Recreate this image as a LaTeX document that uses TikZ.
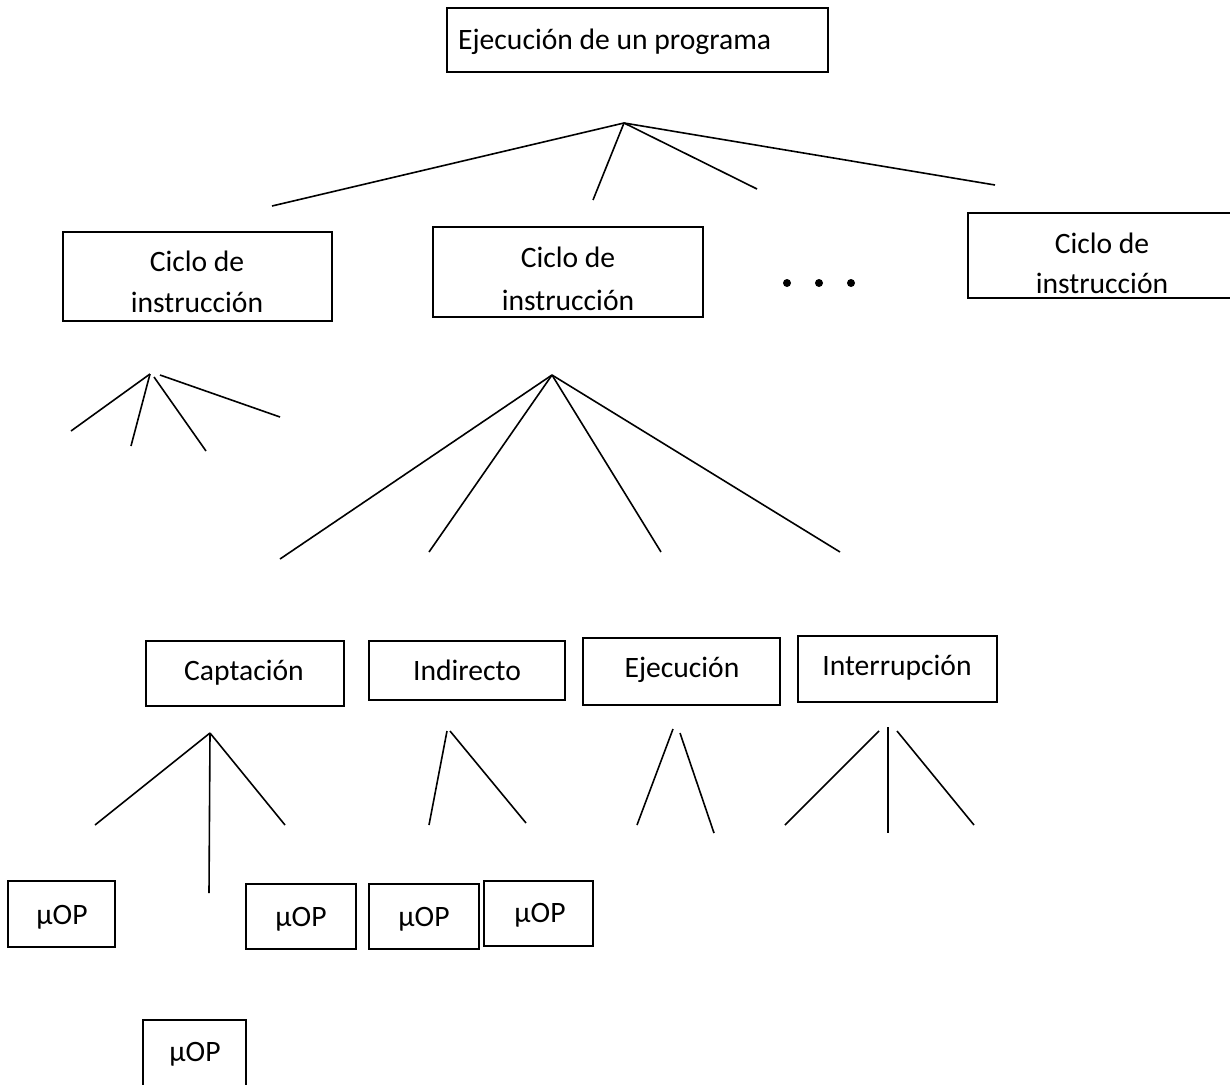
\documentclass[tikz,border=0pt]{standalone}
\usepackage{fontspec}
\setmainfont{Carlito}
\begin{document}
\begin{tikzpicture}[x=1pt,y=-1pt,
  box/.style={draw, line width=1.5pt, inner sep=0pt},
  lbl/.style={anchor=base, inner sep=0pt, font=\fontsize{29.6}{35}\selectfont},
  branch/.style={line width=1.6pt},
  dot/.style={circle, fill, inner sep=0pt, minimum size=8pt}]
\useasboundingbox (0,0) rectangle (1230,1084);

% ---------- boxes ----------
\node[box, minimum width=381pt, minimum height=64pt] (prog) at (637.5,40) {};
\node[box, minimum width=269pt, minimum height=89pt] (cicA) at (197.5,276.5) {};
\node[box, minimum width=270pt, minimum height=90pt] (cicB) at (568,272) {};
\node[box, minimum width=277pt, minimum height=85pt] (cicC) at (1106.5,255.5) {};

\node[box, minimum width=198pt, minimum height=65pt] (capt) at (245,673.5) {};
\node[box, minimum width=196pt, minimum height=59pt] (indi) at (467,670.5) {};
\node[box, minimum width=197pt, minimum height=67pt] (ejec) at (681.5,671.5) {};
\node[box, minimum width=199pt, minimum height=66pt] (intr) at (897.5,669) {};

\node[box, minimum width=107pt, minimum height=66pt] (opA) at (61.5,914) {};
\node[box, minimum width=110pt, minimum height=65pt] (opB) at (301,916.5) {};
\node[box, minimum width=110pt, minimum height=65pt] (opC) at (424,916.5) {};
\node[box, minimum width=109pt, minimum height=65pt] (opD) at (538.5,913.5) {};
\node[box, minimum width=103pt, minimum height=80pt] (opE) at (194.5,1060) {};

% ---------- texts ----------
\node[lbl, anchor=base west] (progT) at (458,49) {Ejecución de un programa};
\node[lbl] (cicA1) at (197,271) {Ciclo de};
\node[lbl] (cicA2) at (197,312) {instrucción};
\node[lbl] (cicB1) at (568,267) {Ciclo de};
\node[lbl] (cicB2) at (568,310) {instrucción};
\node[lbl] (cicC1) at (1102,253) {Ciclo de};
\node[lbl] (cicC2) at (1102,293) {instrucción};
\node[lbl] (captT) at (244,680) {Captación};
\node[lbl] (indiT) at (467,680) {Indirecto};
\node[lbl] (ejecT) at (682,677) {Ejecución};
\node[lbl] (intrT) at (897,675) {Interrupción};
\node[lbl] (opAT) at (62,924) {μOP};
\node[lbl] (opBT) at (301,926) {μOP};
\node[lbl] (opCT) at (424,926) {μOP};
\node[lbl] (opDT) at (540,922) {μOP};
\node[lbl] (opET) at (195,1061) {μOP};

% ---------- ellipsis ----------
\node[dot] (d1) at (787,283) {};
\node[dot] (d2) at (819,283) {};
\node[dot] (d3) at (851,283) {};

% ---------- branch end points ----------
\coordinate (r0) at (624,123);
\coordinate (r1) at (272,206);
\coordinate (r2) at (593,200);
\coordinate (r3) at (757,189);
\coordinate (r4) at (995,185);

\coordinate (a0) at (150,374);
\coordinate (a0b) at (154,377);
\coordinate (a0c) at (160,375);
\coordinate (a1) at (71,431);
\coordinate (a2) at (131,446);
\coordinate (a3) at (206,451);
\coordinate (a4) at (280,417);

\coordinate (b0) at (552,375);
\coordinate (b1) at (280,559);
\coordinate (b2) at (429,552);
\coordinate (b3) at (661,552);
\coordinate (b4) at (840,552);

\coordinate (c0) at (210,733);
\coordinate (c1) at (95,825);
\coordinate (c2) at (209,893);
\coordinate (c3) at (285,825);

\coordinate (i0) at (447,731);
\coordinate (i0b) at (450,731);
\coordinate (i1) at (429,825);
\coordinate (i2) at (526,823);

\coordinate (e0) at (673,729);
\coordinate (e0b) at (680,733);
\coordinate (e1) at (637,825);
\coordinate (e2) at (714,833);

\coordinate (t0) at (879,731);
\coordinate (t0b) at (888,727);
\coordinate (t0c) at (897,731);
\coordinate (t1) at (785,825);
\coordinate (t2) at (888,833);
\coordinate (t3) at (974,825);

% ---------- branches ----------
\draw[branch] (r0) -- (r1);
\draw[branch] (r0) -- (r2);
\draw[branch] (r0) -- (r3);
\draw[branch] (r0) -- (r4);

\draw[branch] (a0) -- (a1);
\draw[branch] (a0) -- (a2);
\draw[branch] (a0b) -- (a3);
\draw[branch] (a0c) -- (a4);

\draw[branch] (b0) -- (b1);
\draw[branch] (b0) -- (b2);
\draw[branch] (b0) -- (b3);
\draw[branch] (b0) -- (b4);

\draw[branch] (c0) -- (c1);
\draw[branch] (c0) -- (c2);
\draw[branch] (c0) -- (c3);

\draw[branch] (i0) -- (i1);
\draw[branch] (i0b) -- (i2);

\draw[branch] (e0) -- (e1);
\draw[branch] (e0b) -- (e2);

\draw[branch] (t0) -- (t1);
\draw[branch] (t0b) -- (t2);
\draw[branch] (t0c) -- (t3);
\end{tikzpicture}
\end{document}
